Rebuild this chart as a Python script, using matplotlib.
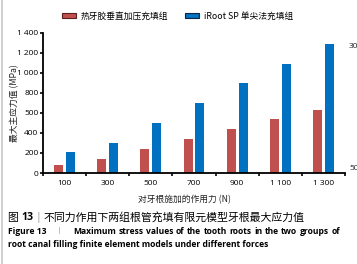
import matplotlib
matplotlib.use("Agg")
import matplotlib.pyplot as plt
from matplotlib.patches import Patch
from matplotlib.lines import Line2D
import numpy as np

plt.rcParams['font.family'] = ['Open Sans', 'Noto Sans CJK SC', 'DejaVu Sans']

categories = ["100", "300", "500", "700", "900", "1 100", "1 300"]
series_names = ["热牙胶垂直加压充填组", "iRoot SP 单尖法充填组"]
red_values = [75, 140, 240, 340, 435, 535, 630]
blue_values = [210, 300, 495, 695, 895, 1090, 1285]
ytick_values = [0, 200, 400, 600, 800, 1000, 1200, 1400]
ytick_labels = ["0", "200", "400", "500", "800", "1 000", "1 200", "1 400"]
xlabel = "对牙根施加的作用力 (N)"
ylabel = "最大主应力值 (MPa)"

RED = "#C0504D"
BLUE = "#0070C0"
W, H = 357, 264
fig = plt.figure(figsize=(W / 100, H / 100), dpi=100)
ax = fig.add_axes([43 / W, 1 - 173 / H, (345 - 43) / W, (173 - 32.5) / H])

x = np.arange(len(categories))
off = 0.138
bw = 0.21
ax.bar(x - off, red_values, bw, color=RED, linewidth=0)
ax.bar(x + off, blue_values, bw, color=BLUE, linewidth=0)

ax.set_xlim(-0.5, len(categories) - 0.5)
ax.set_ylim(0, 1400)
for s in ['top', 'right']:
    ax.spines[s].set_visible(False)
for s in ['left', 'bottom']:
    ax.spines[s].set_linewidth(1.3)
    ax.spines[s].set_color('black')

ax.set_yticks(ytick_values)
ax.set_yticklabels(ytick_labels)
ax.tick_params(axis='y', direction='out', length=2.5, width=1.2, pad=0.8, labelsize=6, colors='black')

ax.set_xticks(np.arange(-0.5, len(categories)), labels=[])
ax.tick_params(axis='x', which='major', direction='out', length=2.5, width=1.2)
ax.set_xticks(x, minor=True)
ax.set_xticklabels(categories, minor=True)
ax.tick_params(axis='x', which='minor', length=0, pad=5.0, labelsize=6)

ax.set_xlabel(xlabel, fontsize=6.3, family=['Noto Sans CJK SC', 'DejaVu Sans'], color='#222222')
ax.xaxis.set_label_coords((184 - 43) / 302, -0.155)
ax.set_ylabel(ylabel, fontsize=6.3, family=['Noto Sans CJK SC', 'DejaVu Sans'], color='#222222')
ax.yaxis.set_label_coords(-0.08, 0.5)

handles = [Patch(facecolor=RED, edgecolor='#5a1f1d', linewidth=0.8),
           Patch(facecolor=BLUE, edgecolor='#0b2a4a', linewidth=0.8)]
fig.legend(handles, series_names, loc='center left', bbox_to_anchor=(62 / W, 1 - 16 / H),
           ncol=2, frameon=False, borderpad=0, borderaxespad=0,
           handlelength=1.55, handleheight=0.55, handletextpad=0.55, columnspacing=2.0,
           prop={'family': ['Noto Sans CJK SC', 'DejaVu Sans'], 'size': 6.3})

# left gray frame line
fig.add_artist(Line2D([1.5 / W, 1.5 / W], [0, 1], color='#c8c8c8', linewidth=1.2))

# neighbouring panel labels, cut by the figure edge as in the reference
fig.text(349 / W, 1 - 47 / H, "300", fontsize=6, va='center', ha='left', color='#222222')
fig.text(349 / W, 1 - 168 / H, "500", fontsize=6, va='center', ha='left', color='#222222')

# caption
fig.text(8 / W, 1 - 217.5 / H, "图 ", fontsize=7.8, va='center', ha='left',
         family=['Noto Sans CJK SC', 'DejaVu Sans'])
fig.text(21 / W, 1 - 217.5 / H, "13", fontsize=7.6, va='center', ha='left', weight='bold')
fig.text(36 / W, 1 - 217.5 / H, "|", fontsize=7.6, va='center', ha='left', color='#999999')
fig.text(44 / W, 1 - 217.5 / H, "不同力作用下两组根管充填有限元模型牙根最大应力值", fontsize=7.85,
         va='center', ha='left', family=['Noto Sans CJK SC', 'DejaVu Sans'])
fig.text(8 / W, 1 - 231 / H, "Figure 13", fontsize=6.1, va='center', ha='left', weight='bold')
fig.text(57 / W, 1 - 231 / H, "|", fontsize=6.1, va='center', ha='left', color='#999999')

# justified second line
line2 = "Maximum stress values of the tooth roots in the two groups of"
renderer = fig.canvas.get_renderer()
words = line2.split()
wtexts = [fig.text(0, 1 - 231 / H, w, fontsize=6.1, va='center', ha='left', weight='bold') for w in words]
widths = [t.get_window_extent(renderer).width for t in wtexts]
x0, x1 = 73.0, 340.0
gap = (x1 - x0 - sum(widths)) / (len(words) - 1)
cur = x0
for t, wdt in zip(wtexts, widths):
    t.set_x(cur / W)
    cur += wdt + gap

fig.text(8 / W, 1 - 244.5 / H, "root canal filling finite element models under different forces",
         fontsize=6.1, va='center', ha='left', weight='bold')

fig.savefig("out.png", dpi=100)
